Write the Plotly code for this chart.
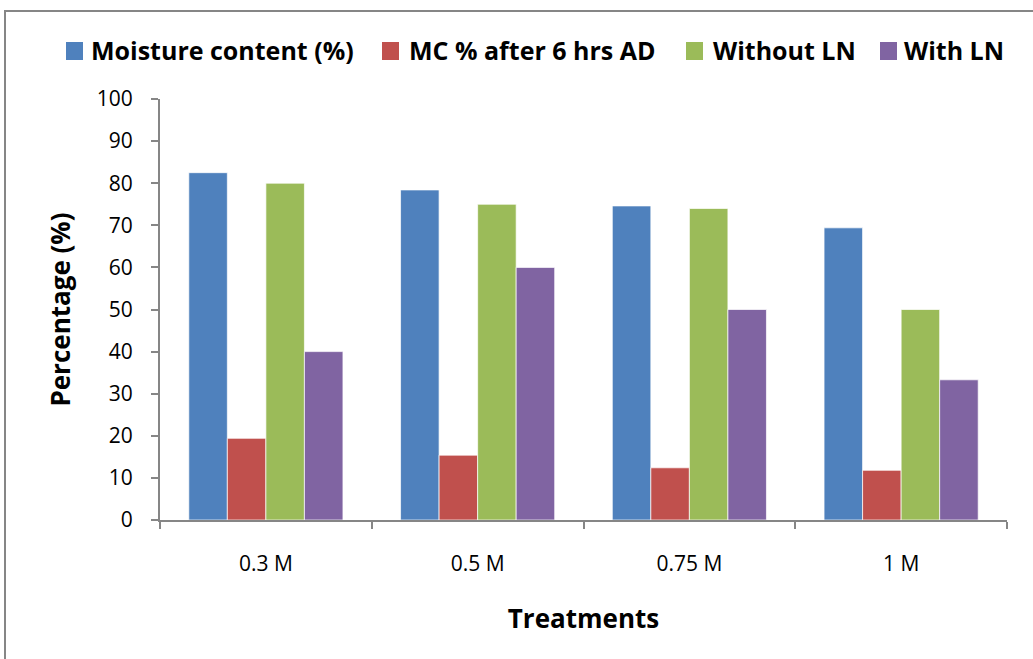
import plotly.graph_objects as go

# Treatment groups and measured percentages
treatments = ["0.3 M", "0.5 M", "0.75 M", "1 M"]
series_names = ["Moisture content (%)", "MC % after 6 hrs AD", "Without LN", "With LN"]
moisture_content = [82.5, 78.4, 74.6, 69.4]
mc_after_6h_ad = [19.4, 15.4, 12.4, 11.8]
without_ln = [80, 75, 74, 50]
with_ln = [40, 60, 50, 33.3]
y_ticks = [0, 10, 20, 30, 40, 50, 60, 70, 80, 90, 100]

colors = ["#4F81BD", "#C0504D", "#9BBB59", "#8064A2"]
values = [moisture_content, mc_after_6h_ad, without_ln, with_ln]

W, H = 1033, 659
L, R, T, B = 160, 26, 99, 139
plot_w = W - L - R
plot_h = H - T - B


def px_x(px):
    return (px - L) / plot_w


def px_y(py):
    return (H - B - py) / plot_h


fig = go.Figure()
for name, vals, col in zip(series_names, values, colors):
    fig.add_trace(go.Bar(
        x=treatments, y=vals, name=name,
        marker=dict(color=col, line=dict(color="rgba(255,255,255,0.7)", width=1)),
        showlegend=False,
    ))

axis_gray = "#868686"
tick_font = dict(family="Open Sans", size=21, color="#000000")
title_font = dict(family="Open Sans", size=26, color="#000000")

fig.update_layout(
    width=W, height=H,
    margin=dict(l=L, r=R, t=T, b=B, autoexpand=False),
    paper_bgcolor="white", plot_bgcolor="white",
    barmode="group", bargap=0.272, bargroupgap=0,
    xaxis=dict(
        type="category", tickson="boundaries", ticks="outside", ticklen=7,
        tickwidth=2, tickcolor=axis_gray, showline=True, linecolor=axis_gray,
        linewidth=2, showgrid=False, tickfont=tick_font, ticklabelstandoff=24,
        title=dict(text="<b>Treatments</b>", font=title_font, standoff=34),
    ),
    yaxis=dict(
        range=[0, 100], tickvals=y_ticks, ticks="outside", ticklen=7,
        tickwidth=2, tickcolor=axis_gray, showline=True, linecolor=axis_gray,
        linewidth=2, showgrid=False, zeroline=False, tickfont=tick_font,
        ticklabelstandoff=14,
        title=dict(text="<b>Percentage (%)</b>", font=title_font, standoff=19),
    ),
)

# Outer chart border
fig.add_shape(type="rect", xref="paper", yref="paper",
              x0=px_x(5), x1=px_x(1045), y0=px_y(11), y1=px_y(680),
              line=dict(color=axis_gray, width=2), fillcolor="rgba(0,0,0,0)",
              layer="below")

# Legend row across the top
legend_sq_left = [66, 382, 686, 880]
legend_text_left = [89, 407, 711, 902]
for name, col, sx, tx in zip(series_names, colors, legend_sq_left, legend_text_left):
    fig.add_shape(type="rect", xref="paper", yref="paper",
                  x0=px_x(sx), x1=px_x(sx + 17), y0=px_y(60), y1=px_y(42),
                  line=dict(width=0), fillcolor=col)
    fig.add_annotation(xref="paper", yref="paper", x=px_x(tx), y=px_y(50),
                       xanchor="left", yanchor="middle", showarrow=False,
                       text=f"<b>{name}</b>",
                       font=dict(family="Open Sans", size=25, color="#000000"))

fig.write_html("out.html")
